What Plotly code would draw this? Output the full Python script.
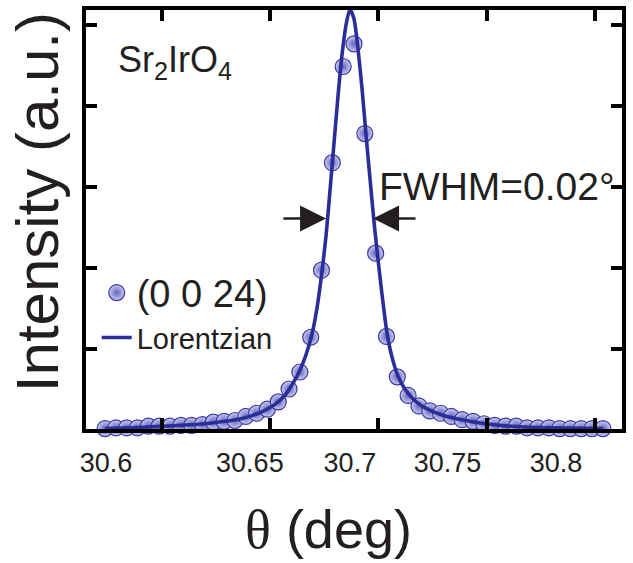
import plotly.graph_objects as go

# ---------------- data ----------------
theta_pts = [30.5737, 30.5787, 30.5837, 30.5887, 30.5937, 30.5987, 30.6037, 30.6087, 30.6137, 30.6187,
             30.6237, 30.6287, 30.6337, 30.6387, 30.6437, 30.6487, 30.6537, 30.6587, 30.6637, 30.6687,
             30.6737, 30.6787, 30.6837, 30.6887, 30.6937, 30.6987, 30.7037, 30.7087, 30.7137, 30.7187,
             30.7237, 30.7287, 30.7337, 30.7387, 30.7437, 30.7487, 30.7537, 30.7587, 30.7637, 30.7687,
             30.7737, 30.7787, 30.7837, 30.7887, 30.7937, 30.7987, 30.8037]
intensity_pts = [0.01, 0.02, 0.02, 0.02, 0.04, 0.04, 0.04, 0.05, 0.05, 0.06,
                 0.09, 0.10, 0.11, 0.16, 0.20, 0.25, 0.34, 0.50, 0.71, 1.14,
                 1.97, 3.30, 4.49, 4.77, 3.66, 2.18, 1.15, 0.65, 0.42, 0.29,
                 0.23, 0.20, 0.16, 0.12, 0.10, 0.07, 0.05, 0.04, 0.04, 0.02,
                 0.02, 0.02, 0.01, 0.01, 0.01, 0.01, 0.01]

theta_fit = [30.5737, 30.5852, 30.5968, 30.6083, 30.6199, 30.6291, 30.6360, 30.6416, 30.6471, 30.6522,
             30.6564, 30.6600, 30.6637, 30.6665, 30.6693, 30.6716, 30.6739, 30.6758, 30.6776, 30.6795,
             30.6813, 30.6831, 30.6850, 30.6868, 30.6887, 30.6905, 30.6924, 30.6942, 30.6961, 30.6979,
             30.6998, 30.7016, 30.7039, 30.7062, 30.7090, 30.7122, 30.7159, 30.7201, 30.7252, 30.7316,
             30.7386, 30.7469, 30.7561, 30.7677, 30.7815, 30.8037]
intensity_fit = [0.01, 0.02, 0.035, 0.05, 0.07, 0.10, 0.13, 0.17, 0.23, 0.31,
                 0.41, 0.55, 0.73, 0.92, 1.18, 1.50, 1.95, 2.40, 2.95, 3.55,
                 4.12, 4.62, 5.00, 5.20, 5.08, 4.72, 4.22, 3.66, 3.10, 2.58,
                 2.10, 1.68, 1.20, 0.90, 0.66, 0.50, 0.38, 0.29, 0.22, 0.16,
                 0.12, 0.08, 0.05, 0.03, 0.02, 0.01]

tick_marks = [30.6, 30.65, 30.7, 30.75, 30.8]
tick_label_pos = [30.5741, 30.6406, 30.6868, 30.7319, 30.7820]
tick_label_text = ["30.6", "30.65", "30.7", "30.75", "30.8"]
y_ticks = [1, 2, 3, 4, 5]
x_range = [30.5649, 30.8125]
y_range = [0.005, 5.189]

half_max = 2.61
fwhm_left, fwhm_right = 30.6758, 30.6975
arrow_left_tail, arrow_right_tail = 30.6554, 30.7178

FONT = "Liberation Sans, Arial, sans-serif"
TXT = "#231f20"

fig = go.Figure()
fig.add_trace(go.Scatter(
    x=theta_pts, y=intensity_pts, mode="markers", name="(0 0 24)",
    marker=dict(size=16, color="#cacaf0",
                gradient=dict(type="radial", color="#6363bf"),
                line=dict(color="#3a3a9e", width=1.2)),
    cliponaxis=False, legend="legend"))
fig.add_trace(go.Scatter(
    x=theta_fit, y=intensity_fit, mode="lines", name="Lorentzian",
    line=dict(color="#2b2e96", width=3.6, shape="spline", smoothing=0.6),
    cliponaxis=False, legend="legend2"))
# invisible trace to activate the tick-label axis
fig.add_trace(go.Scatter(x=[x_range[0]], y=[y_range[0]], xaxis="x2", mode="markers",
                         marker=dict(opacity=0), showlegend=False, hoverinfo="skip"))

fig.update_layout(
    width=633, height=563,
    margin=dict(l=86, r=11, t=6, b=134),
    paper_bgcolor="white", plot_bgcolor="white",
    font=dict(family=FONT, color=TXT),
    xaxis=dict(range=x_range, tickvals=tick_marks, showticklabels=False,
               ticks="inside", ticklen=11, tickwidth=4, tickcolor="black",
               showline=True, linewidth=4, linecolor="black", mirror="ticks",
               showgrid=False, zeroline=False),
    xaxis2=dict(range=x_range, overlaying="x", side="bottom", anchor="y",
                tickvals=tick_label_pos, ticktext=tick_label_text,
                ticks="", showline=False, showgrid=False, zeroline=False,
                tickfont=dict(size=27, family=FONT, color=TXT),
                ticklabelstandoff=15),
    yaxis=dict(range=y_range, tickvals=y_ticks, showticklabels=False,
               ticks="inside", ticklen=11, tickwidth=4, tickcolor="black",
               showline=True, linewidth=4, linecolor="black", mirror="ticks",
               showgrid=False, zeroline=False),
    legend=dict(x=0.02, y=0.40, xanchor="left", yanchor="top",
                bgcolor="rgba(0,0,0,0)", font=dict(size=38, family=FONT, color=TXT),
                itemsizing="trace"),
    legend2=dict(x=0.02, y=0.279, xanchor="left", yanchor="top",
                 bgcolor="rgba(0,0,0,0)", font=dict(size=29, family=FONT, color=TXT)),
)

annotations = [
    dict(text='<span style="font-family:Liberation Serif">θ</span> (deg)',
         xref="paper", yref="paper", x=0.4515, y=-0.2388,
         xanchor="center", yanchor="middle", showarrow=False,
         font=dict(size=54, family=FONT, color=TXT)),
    dict(text="Intensity (a.u.)", xref="paper", yref="paper", x=-0.0914, y=0.5414,
         xanchor="center", yanchor="middle", textangle=-90, showarrow=False,
         font=dict(size=60, family=FONT, color=TXT)),
    dict(text="Sr<sub>2</sub>IrO<sub>4</sub>", xref="paper", yref="paper", x=0.166, y=0.875,
         xanchor="center", yanchor="middle", showarrow=False,
         font=dict(size=36, family=FONT, color=TXT)),
    dict(text="FWHM=0.02°", xref="paper", yref="paper", x=0.7677, y=0.579,
         xanchor="center", yanchor="middle", showarrow=False,
         font=dict(size=39, family=FONT, color=TXT)),
    dict(text="", x=fwhm_left, y=half_max, ax=arrow_left_tail, ay=half_max,
         xref="x", yref="y", axref="x", ayref="y", showarrow=True,
         arrowhead=2, arrowsize=2.0, arrowwidth=2.6, arrowcolor=TXT),
    dict(text="", x=fwhm_right, y=half_max, ax=arrow_right_tail, ay=half_max,
         xref="x", yref="y", axref="x", ayref="y", showarrow=True,
         arrowhead=2, arrowsize=2.0, arrowwidth=2.6, arrowcolor=TXT),
]
fig.update_layout(annotations=annotations)

fig.write_html("out.html")
